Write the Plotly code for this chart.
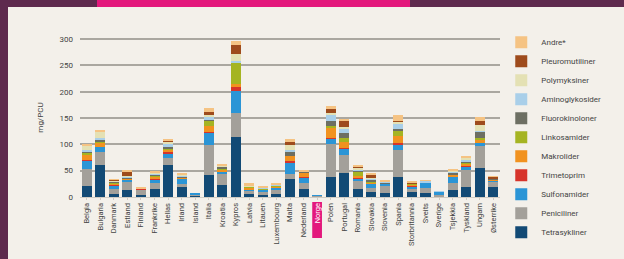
import plotly.graph_objects as go

countries = ["Belgia", "Bulgaria", "Danmark", "Estland", "Finland", "Frankrike", "Hellas", "Irland",
             "Island", "Italia", "Kroatia", "Kypros", "Latvia", "Litauen", "Luxembourg", "Malta",
             "Nederland", "Norge", "Polen", "Portugal", "Romania", "Slovakia", "Slovenia", "Spania",
             "Storbritannia", "Sveits", "Sverige", "Tsjekkia", "Tyskland", "Ungarn", "Østerrike"]

tetrasykliner   = [20, 60, 6, 14, 3, 16, 60, 19, 3, 41, 22, 114, 5, 4, 5, 35, 16, 1, 38, 46, 16, 10, 8, 38, 9, 8, 1, 14, 19, 55, 19]
peniciliner     = [34, 25, 10, 14, 11, 10, 15, 5, 1, 57, 22, 45, 7, 7, 9, 9, 10, 1.5, 63, 33, 14, 8, 14, 51, 8, 9, 3, 13, 32, 42, 10]
sulfonamider    = [15, 10, 5, 5, 1, 8, 8, 12, 2, 24, 3, 42, 3, 3, 4, 22, 11, 0.5, 10, 13, 6, 7, 2, 11, 2, 11, 6, 11, 6, 5, 2]
trimetoprim     = [2, 0, 2, 0, 1, 1, 2, 0, 0, 2, 0, 8, 0, 0, 0, 2, 1, 0, 1, 1, 1, 1, 0, 2, 2, 0, 0, 1, 1, 0, 0]
makrolider      = [10, 8, 3, 2, 0, 3, 5, 1, 0, 10, 5, 6, 3, 1, 2, 10, 9, 0, 19, 12, 3, 2, 0, 13, 3, 0, 0, 3, 5, 8, 2]
linkosamider    = [2, 3, 2, 0, 0, 2, 2, 0, 0, 11, 2, 40, 1, 1, 1, 0, 0, 0, 4, 8, 8, 1, 0, 12, 1, 0, 0, 1, 2, 2, 0]
fluorokinoloner = [4, 3, 1, 2, 0, 2, 3, 1, 0, 2, 4, 0, 1, 1, 1, 8, 1, 0, 10, 8, 3, 5, 4, 3, 1, 0, 0, 2, 2, 12, 2]
aminoglykosider = [3, 3, 1, 2, 0, 2, 5, 3, 0, 5, 0, 3, 0, 1, 1, 4, 0, 0, 12, 9, 1, 2, 1, 10, 0, 3, 1, 4, 3, 2, 1]
polymyksiner    = [8, 12, 1, 1, 0, 2, 5, 2, 0, 3, 2, 14, 1, 0, 0, 8, 0, 0, 3, 3, 4, 1, 1, 3, 0, 0, 0, 2, 5, 10, 0]
pleuromutiliner = [0, 0, 2, 8, 1, 0, 2, 0, 0, 6, 0, 16, 0, 0, 0, 6, 0, 0, 7, 12, 1, 6, 0, 2, 2, 0, 0, 0, 0, 9, 2]
andre           = [2, 3, 1, 3, 1, 2, 2, 1, 0, 9, 3, 8, 5, 2, 3, 6, 3, 0, 5, 3, 3, 1, 3, 10, 2, 1, 0, 1, 2, 7, 1]

series_names = ["Tetrasykliner", "Peniciliner", "Sulfonamider", "Trimetoprim", "Makrolider",
                "Linkosamider", "Fluorokinoloner", "Aminoglykosider", "Polymyksiner",
                "Pleuromutiliner", "Andre*"]
series_values = [tetrasykliner, peniciliner, sulfonamider, trimetoprim, makrolider, linkosamider,
                 fluorokinoloner, aminoglykosider, polymyksiner, pleuromutiliner, andre]
series_colors = ["#124a75", "#a3a09a", "#2b95d6", "#d7342b", "#f1921f", "#a5b422",
                 "#6d6f63", "#a9cfe9", "#e4e1b4", "#9e4b1c", "#f5c383"]

highlight = "Norge"
ticktext = [f'<span style="color:white">{c}</span>' if c == highlight else c for c in countries]

fig = go.Figure()
for name, vals, col in zip(series_names, series_values, series_colors):
    fig.add_trace(go.Bar(x=countries, y=vals, name=name, marker_color=col,
                         marker_line_width=0, legendgroup=name))

cream = "#f3f0ea"
fig.update_layout(
    width=624, height=259,
    barmode="stack", bargap=0.26,
    margin=dict(l=80, r=124, t=38, b=62, autoexpand=False),
    paper_bgcolor=cream, plot_bgcolor=cream,
    font=dict(family="Roboto, Arial, sans-serif", size=8, color="#444444"),
    showlegend=True,
    legend=dict(traceorder="reversed", x=1.003, xanchor="left", y=1.064, yanchor="top",
                bgcolor="rgba(0,0,0,0)", font=dict(size=8, color="#444444"),
                itemwidth=30, tracegroupgap=0, maxheight=245),
    xaxis=dict(tickmode="array", tickvals=countries, ticktext=ticktext, tickangle=-90,
               tickfont=dict(size=7.5, color="#444444"), showgrid=False, automargin=False,
               showline=True, linecolor="#d0ccc4", linewidth=1, ticks="outside",
               ticklen=2, tickcolor="#d0ccc4", range=[-0.5, len(countries) - 0.5]),
    yaxis=dict(range=[0, 302], tickvals=[0, 50, 100, 150, 200, 250, 300],
               showgrid=True, gridcolor="#aaa7a0", gridwidth=1.5, zeroline=False,
               tickfont=dict(size=8, color="#444444"), automargin=False, ticks="",
               ticklabelstandoff=6,
               title=dict(text="mg/PCU", font=dict(size=8, color="#444444"), standoff=14)),
    shapes=[
        # dark frame strips
        dict(type="rect", xref="paper", yref="paper", x0=-80/420, x1=-72/420, y0=-62/159, y1=1 + 38/159,
             fillcolor="#5e2a4e", line_width=0, layer="below"),
        dict(type="rect", xref="paper", yref="paper", x0=-80/420, x1=1 + 124/420, y0=1 + 31/159, y1=1 + 38/159,
             fillcolor="#5e2a4e", line_width=0, layer="below"),
        dict(type="rect", xref="paper", yref="paper", x0=17/420, x1=330/420, y0=1 + 31/159, y1=1 + 38/159,
             fillcolor="#e3187c", line_width=0, layer="below"),
        # highlight tag behind Norge label
        dict(type="rect", xref="x", yref="paper", x0=countries.index(highlight) - 0.36,
             x1=countries.index(highlight) + 0.36, y0=-41/159, y1=-5/159,
             fillcolor="#e3187c", line_width=0, layer="below"),
    ],
)

fig.write_html("out.html", config={"displayModeBar": False},
               post_script="document.body.style.margin='0';document.body.style.overflow='hidden';")
